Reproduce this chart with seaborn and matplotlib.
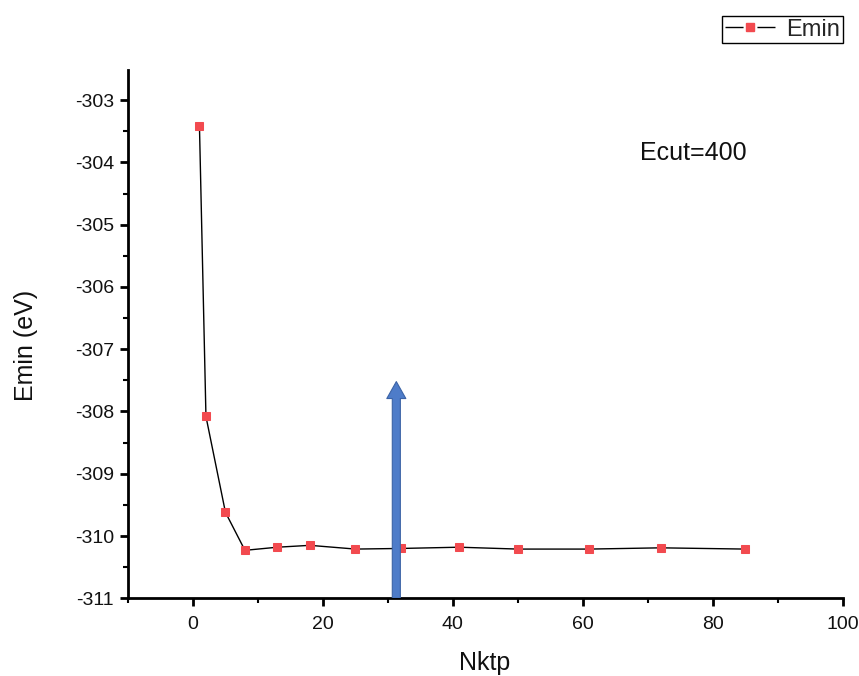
import matplotlib
matplotlib.use("Agg")
import matplotlib.pyplot as plt
from matplotlib.patches import FancyArrowPatch
from matplotlib.lines import Line2D
from matplotlib.ticker import MultipleLocator
import seaborn as sns
import pandas as pd

# k-point convergence of the minimum energy
nktp = [1, 2, 5, 8, 13, 18, 25, 32, 41, 50, 61, 72, 85]
emin = [-303.42, -308.08, -309.62, -310.23, -310.18, -310.15, -310.21,
        -310.20, -310.18, -310.21, -310.21, -310.19, -310.21]
series_name = "Emin"
note = "Ecut=400"
arrow_x = 31.3
arrow_span = (-311.0, -307.52)

df = pd.DataFrame({"Nktp": nktp, "Emin": emin})

sns.set_theme(style="ticks")
plt.rcParams["font.family"] = ["Liberation Sans", "DejaVu Sans"]
plt.rcParams["axes.unicode_minus"] = False

marker_color = "#f24a4f"

fig = plt.figure(figsize=(8.59, 6.76), dpi=100)
ax = fig.add_axes([0.149, 0.115, 0.832, 0.781])

sns.lineplot(data=df, x="Nktp", y="Emin", ax=ax, color="black", linewidth=1.0,
             marker="s", markersize=6, markerfacecolor=marker_color,
             markeredgecolor=marker_color, legend=False)

arrow = FancyArrowPatch((arrow_x, arrow_span[0]), (arrow_x, arrow_span[1]),
                        arrowstyle="simple,head_length=1.22,head_width=1.37,tail_width=0.58",
                        mutation_scale=10, facecolor="#4e7cc9", edgecolor="#3b63a6",
                        linewidth=0.8, zorder=3, shrinkA=0, shrinkB=0)
ax.add_patch(arrow)

ax.text(68.8, -303.85, note, fontsize=18, ha="left", va="center", color="#111111")

ax.set_xlim(-10, 100)
ax.set_ylim(-311, -302.52)
ax.xaxis.set_major_locator(MultipleLocator(20))
ax.xaxis.set_minor_locator(MultipleLocator(10))
ax.yaxis.set_major_locator(MultipleLocator(1))
ax.yaxis.set_minor_locator(MultipleLocator(0.5))

for side in ("top", "right"):
    ax.spines[side].set_visible(False)
for side in ("left", "bottom"):
    ax.spines[side].set_linewidth(2.0)
    ax.spines[side].set_color("black")

ax.tick_params(which="major", direction="out", length=6, width=2, labelsize=14,
               color="black", labelcolor="#111111")
ax.tick_params(which="minor", direction="out", length=3.5, width=1.5, color="black")
ax.tick_params(axis="x", which="major", pad=7)
ax.tick_params(axis="y", which="major", pad=4)

ax.set_xlabel("Nktp", fontsize=18, color="#111111")
ax.set_ylabel("Emin (eV)", fontsize=18, color="#111111")
ax.xaxis.set_label_coords(0.499, -0.100)
ax.yaxis.set_label_coords(-0.126, 0.479)

# legend handle: line broken around the square marker
seg = Line2D([], [], color="black", linewidth=1.0, dashes=(13, 10))
dot = Line2D([], [], linestyle="none", marker="s", markersize=6,
             markerfacecolor=marker_color, markeredgecolor=marker_color)
fig.legend([(seg, dot)], [series_name], loc="upper right",
           bbox_to_anchor=(0.981, 0.976), fontsize=17, frameon=True,
           fancybox=False, edgecolor="black", framealpha=1, handlelength=2.12,
           borderpad=0.1, handletextpad=0.5, borderaxespad=0)

fig.savefig("out.png", dpi=100)
